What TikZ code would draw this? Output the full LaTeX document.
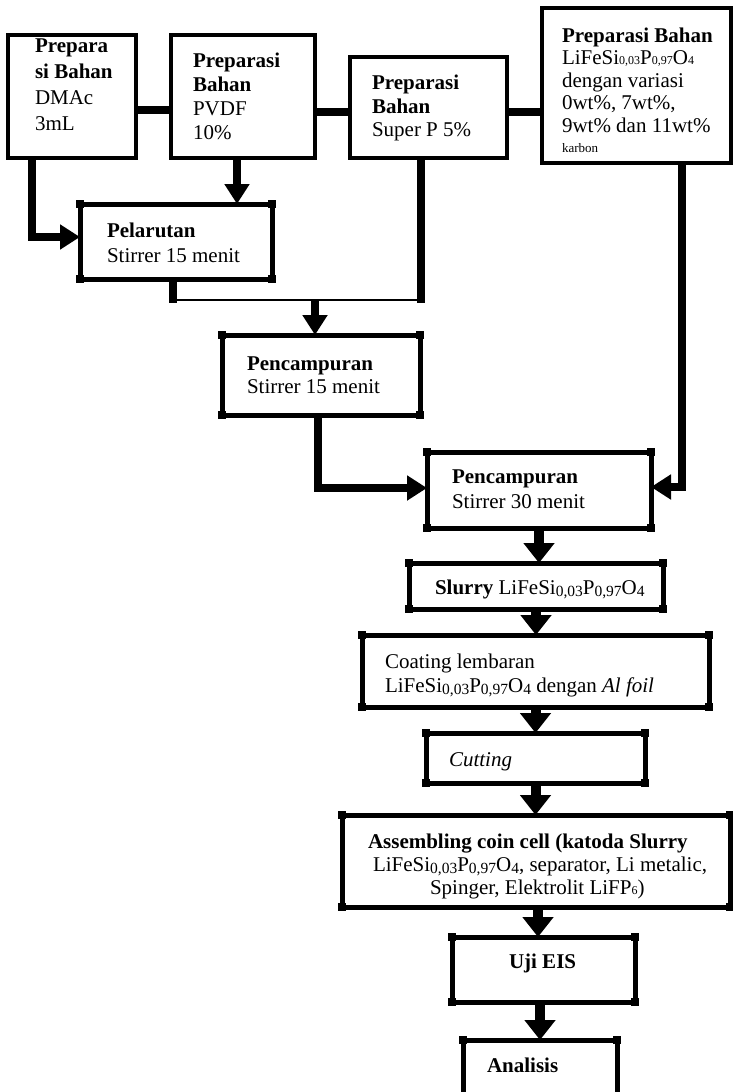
\documentclass[tikz,border=0pt]{standalone}
\usepackage{fontspec}
\setmainfont{Liberation Serif}
\usetikzlibrary{arrows.meta}
\newcommand\sbl[1]{\raisebox{-2.5pt}{\fontsize{15.5}{15.5}\selectfont #1}}
\newcommand\sbt[1]{{\fontsize{12}{12}\selectfont #1}}
\tikzset{
  tbox/.style={draw, line width=3.5pt, inner sep=0pt, outer sep=0pt},
  lbox/.style={draw, line width=5pt, inner sep=0pt, outer sep=0pt},
  txt/.style={anchor=north west, inner sep=0pt, outer sep=0pt, align=left, font=\fontsize{21}{#1}\selectfont},
  con/.style={line width=8pt},
  thin/.style={line width=2pt},
  arr/.style={line width=8pt, -{Triangle[length=20pt,width=24pt]}},
  arrb/.style={line width=10pt, -{Triangle[length=20pt,width=30pt]}},
}
\begin{document}
\begin{tikzpicture}[x=1pt,y=-1pt]
\useasboundingbox (0,0) rectangle (733,1092);
\clip (0,0) rectangle (733,1092);
% top boxes
\node[tbox, minimum width=128pt, minimum height=123pt] (dmac) at (72,96.5) {};
\node[tbox, minimum width=144pt, minimum height=123pt] (pvdf) at (243,96.5) {};
\node[tbox, minimum width=157pt, minimum height=101pt] (superp) at (428.5,107.5) {};
\node[tbox, minimum width=189pt, minimum height=155pt] (lifesi) at (636.5,85.5) {};
% lower boxes
\node[lbox, minimum width=192pt, minimum height=75pt] (pelarutan) at (176,241.5) {};
\node[lbox, minimum width=198pt, minimum height=80pt] (mix1) at (321,375) {};
\node[lbox, minimum width=224pt, minimum height=76pt] (mix2) at (539,490) {};
\node[lbox, minimum width=254pt, minimum height=46pt] (slurry) at (536,586) {};
\node[lbox, minimum width=347pt, minimum height=72pt] (coating) at (535.5,671) {};
\node[lbox, minimum width=219pt, minimum height=50pt] (cutting) at (535.5,758) {};
\node[lbox, minimum width=388pt, minimum height=92pt] (assembling) at (536,861) {};
\node[lbox, minimum width=183pt, minimum height=65pt] (ujieis) at (543.5,969.5) {};
\node[lbox, minimum width=154pt, minimum height=70pt] (analisis) at (540,1075) {};
\foreach \b in {pelarutan,mix1,mix2,slurry,coating,cutting,assembling,ujieis,analisis}
  \foreach \c in {north west,north east,south west,south east}
    \fill (\b.\c) +(-4,-4) rectangle +(4,4);
% texts
\node[txt=26] (t1) at (35,33.8) {\strut\textbf{Prepara}\\\textbf{si Bahan}\\DMAc\\3mL};
\node[txt=24] (t2) at (193,50.2) {\strut\textbf{Preparasi}\\\textbf{Bahan}\\PVDF\\10\%};
\node[txt=23.5] (t3) at (372,73.5) {\strut\textbf{Preparasi}\\\textbf{Bahan}\\Super P 5\%};
\node[txt=22.5] (t4) at (562,26.3) {\strut\textbf{Preparasi Bahan}\\LiFeSi\sbt{0,03}P\sbt{0,97}O\sbt{4}\\dengan variasi\\0wt\%, 7wt\%,\\9wt\% dan 11wt\%\\[-2.5pt]{\fontsize{13}{13}\selectfont karbon}};
\node[txt=25] (t5) at (107,219.5) {\strut\textbf{Pelarutan}\\Stirrer 15 menit};
\node[txt=23.3] (t6) at (247,353.7) {\strut\textbf{Pencampuran}\\Stirrer 15 menit};
\node[txt=25] (t7) at (452,465.5) {\strut\textbf{Pencampuran}\\Stirrer 30 menit};
\node[txt=25] (t8) at (435,576.5) {\strut\textbf{Slurry} LiFeSi\sbl{0,03}P\sbl{0,97}O\sbl{4}};
\node[txt=24] (t9) at (385,651.2) {\strut Coating lembaran\\LiFeSi\sbl{0,03}P\sbl{0,97}O\sbl{4} dengan \textit{Al foil}};
\node[txt=25] (t10) at (449,748.5) {\strut\textit{Cutting}};
\node[txt=23] (t11) at (368,831.9) {\strut\textbf{Assembling coin cell (katoda Slurry}\\\hspace*{5pt}LiFeSi\sbl{0,03}P\sbl{0,97}O\sbl{4}, separator, Li metalic,\\\hspace*{62pt}Spinger, Elektrolit LiFP\sbt{6})};
\node[txt=25] (t12) at (509,950.5) {\strut\textbf{Uji EIS}};
\node[txt=25] (t13) at (487,1054.5) {\strut\textbf{Analisis}};
% connectors top row
\draw[con] ([yshift=-13.5pt]dmac.east) -- ([yshift=-13.5pt]pvdf.west);
\draw[con] ([yshift=-15.5pt]pvdf.east) -- ([yshift=-4.5pt]superp.west);
\draw[con] ([yshift=-4.5pt]superp.east) -- ([yshift=-26.5pt]lifesi.west);
% to pelarutan
\draw[arr] ([xshift=-40pt]dmac.south) |- ([yshift=4.5pt]pelarutan.west);
\draw[arr] ([xshift=-6pt]pvdf.south) -- ([xshift=-6pt]pvdf.south |- pelarutan.north);
% junction
\coordinate (jl) at (173,300);
\coordinate (jr) at (421,300);
\coordinate (jm) at (315,300);
\draw[con] (pelarutan.south -| jl) -- ([yshift=-3pt]jl);
\draw[con] (superp.south -| jr) -- ([yshift=-3pt]jr);
\draw[thin] (jl) -- (jr);
\draw[arr] (jm) -- (jm |- mix1.north);
% to mix2
\draw[arr] ([xshift=-3pt]mix1.south) |- ([yshift=2pt]mix2.west);
\draw[arr] ([xshift=45.5pt]lifesi.south) |- ([yshift=3pt]mix2.east);
% main column
\draw[arrb] (mix2.south) -- (mix2.south |- slurry.north);
\draw[arrb] (slurry.south) -- (slurry.south |- coating.north);
\draw[arrb] (coating.south -| cutting.north) -- (cutting.north);
\draw[arrb] (cutting.south) -- (cutting.south |- assembling.north);
\draw[arrb] ([xshift=-5.5pt]ujieis.north |- assembling.south) -- ([xshift=-5.5pt]ujieis.north);
\draw[arrb] (analisis.north |- ujieis.south) -- (analisis.north);
\end{tikzpicture}
\end{document}
